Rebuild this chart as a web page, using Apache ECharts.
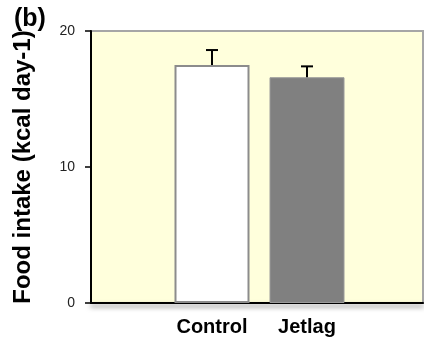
<!DOCTYPE html>
<html>
<head>
<meta charset="utf-8">
<script src="https://cdn.jsdelivr.net/npm/echarts@6/dist/echarts.min.js"></script>
<style>
html,body{margin:0;padding:0;background:#fff;}
#c{width:424px;height:349px;}
</style>
</head>
<body>
<div id="c"></div>
<script>
var categories = ['Control', 'Jetlag'];
var means = [17.5, 16.6];
var errors = [1.1, 0.8];
var yTicks = [0, 10, 20];
var panelLabel = '(b)';
var yTitle = 'Food intake (kcal day-1)';

var chart = echarts.init(document.getElementById('c'), null, {renderer: 'canvas'});
var FONT = 'Liberation Sans, Arial, sans-serif';

var option = {
  animation: false,
  title: {
    text: panelLabel, left: 9, top: 2,
    textStyle: {fontFamily: FONT, fontWeight: 'bold', fontSize: 25, color: '#000'}
  },
  grid: [
    {left: 91, top: 31, width: 332, height: 272, show: true,
     backgroundColor: '#FFFFDC', borderColor: '#A6A6A6', borderWidth: 2},
    {left: 164.5, top: 31, width: 190, height: 272}
  ],
  xAxis: [
    {gridIndex: 0, type: 'value', min: 0, max: 1,
     axisLine: {show: true, onZero: false, lineStyle: {color: '#000', width: 2,
       shadowColor: 'rgba(0,0,0,0.55)', shadowBlur: 5, shadowOffsetY: 3}},
     axisTick: {show: false}, axisLabel: {show: false}, splitLine: {show: false}},
    {gridIndex: 1, type: 'category', data: categories,
     axisLine: {show: false}, axisTick: {show: false}, splitLine: {show: false},
     axisLabel: {margin: 14, fontFamily: FONT, fontWeight: 'bold', fontSize: 20, color: '#000'}}
  ],
  yAxis: [
    {gridIndex: 0, type: 'value', min: yTicks[0], max: yTicks[yTicks.length - 1], interval: 10,
     name: yTitle, nameLocation: 'middle', nameRotate: 90, nameGap: 56,
     nameTextStyle: {fontFamily: FONT, fontWeight: 'bold', fontSize: 24, color: '#000'},
     axisLine: {show: true, lineStyle: {color: '#000', width: 2}},
     axisTick: {show: true, length: 6, lineStyle: {color: '#000', width: 1.5}},
     axisLabel: {margin: 16, fontFamily: FONT, fontSize: 14, color: '#222'},
     splitLine: {show: false}},
    {gridIndex: 1, type: 'value', min: yTicks[0], max: yTicks[yTicks.length - 1], interval: 10,
     show: false, splitLine: {show: false}}
  ],
  series: [
    {type: 'bar', xAxisIndex: 1, yAxisIndex: 1, barWidth: 75,
     data: [
       {value: means[0], itemStyle: {color: '#FFFFFF', borderColor: '#8C8C8C', borderWidth: 2}},
       {value: means[1], itemStyle: {color: '#808080', borderColor: '#9A9A9A', borderWidth: 1}}
     ], z: 2},
    {type: 'custom', xAxisIndex: 1, yAxisIndex: 1, z: 3,
     data: categories.map(function (c, i) { return [i, means[i], means[i] + errors[i]]; }),
     renderItem: function (params, api) {
       var base = api.coord([api.value(0), api.value(1)]);
       var top = api.coord([api.value(0), api.value(2)]);
       var hw = 6;
       return {
         type: 'group',
         children: [
           {type: 'line', shape: {x1: base[0], y1: base[1], x2: top[0], y2: top[1]},
            style: {stroke: '#000', lineWidth: 2}},
           {type: 'line', shape: {x1: top[0] - hw, y1: top[1], x2: top[0] + hw, y2: top[1]},
            style: {stroke: '#000', lineWidth: 2}}
         ]
       };
     }}
  ]
};
chart.setOption(option);
</script>
</body>
</html>
